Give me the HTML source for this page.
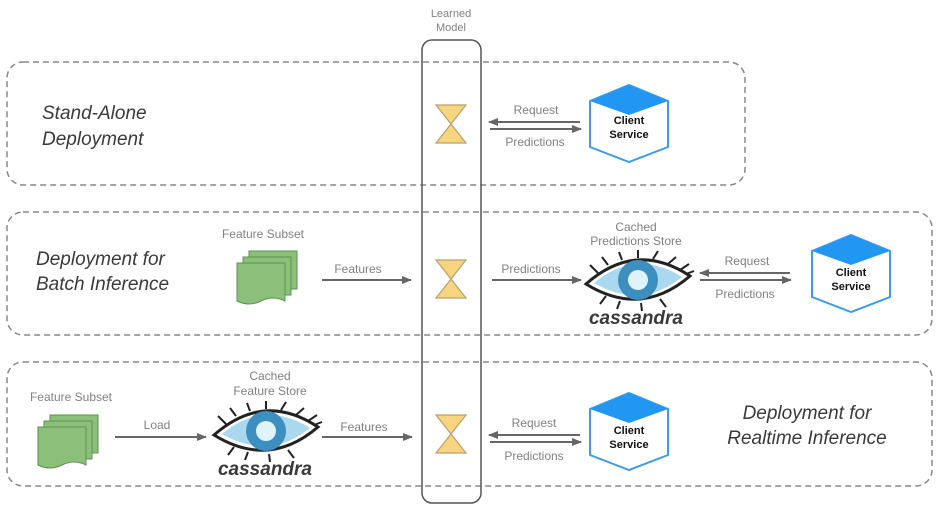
<!DOCTYPE html>
<html><head><meta charset="utf-8"><style>
html,body{margin:0;padding:0;background:#fff;}
svg{display:block;}
text{font-family:"Liberation Sans",sans-serif;}
.lbl{font-size:12px;fill:#808080;text-anchor:middle;}
.it{font-size:19px;font-style:italic;fill:#3a3a3a;}
.cs{font-size:11px;font-weight:bold;fill:#111;text-anchor:middle;}
.cas{font-size:19px;font-weight:bold;font-style:italic;fill:#3a3a3a;text-anchor:middle;}
</style></head><body>
<svg width="939" height="510" viewBox="0 0 939 510" xmlns="http://www.w3.org/2000/svg">
<defs>
<marker id="ah" markerWidth="10" markerHeight="8" refX="9" refY="4" orient="auto" markerUnits="userSpaceOnUse">
<path d="M0,0 L10,4 L0,8 z" fill="#666"/></marker>
<g id="cube">
<path d="M39,0 L78,16 L78,62 L39,77 L0,62 L0,16 Z" fill="#fff" stroke="#3d9be9" stroke-width="2"/>
<path d="M39,0 L78,16 L39,30 L0,16 Z" fill="#2196f3"/>
</g>
<g id="hg">
<path d="M0,0 L30,0 L15,19 Z M0,38 L30,38 L15,19 Z" fill="#f7d57e" stroke="#b8a070" stroke-width="1.2"/>
</g>
<g id="stack">
<path d="M12,0 H60 V38 H12 Z" fill="#8cc07a" stroke="#5d8f50"/>
<path d="M6,6 H54 V44 H6 Z" fill="#8cc07a" stroke="#5d8f50"/>
<path d="M0,12 H48 V50 Q36,44 24,50 Q12,56 0,50 Z" fill="#8cc07a" stroke="#5d8f50"/>
</g>
<g id="eye">
<path d="M0,28 Q50,-16 104,20 Q55,62 0,28 Z" fill="#fff" stroke="#222" stroke-width="3"/>
<path d="M8,27 Q50,-8 96,21 Q55,54 8,27 Z" fill="#a9d8ef"/>
<circle cx="52" cy="24" r="20" fill="#3c8fbf"/>
<circle cx="52" cy="24" r="10" fill="#dff3fb"/>
<path d="M12,17 L4,9 M22,9 L16,1 M36,4 L33,-4 M52,2 L52,-6 M67,3 L72,-5 M82,8 L90,1 M94,14 L103,8 M100,18 L108,15 M20,40 L14,48 M34,45 L31,53 M55,47 L56,55 M74,43 L80,51" stroke="#222" stroke-width="2"/>
</g>
</defs>

<text class="lbl" x="451" y="17" style="font-size:11px">Learned</text>
<text class="lbl" x="451" y="31" style="font-size:11px">Model</text>

<rect x="7" y="62" width="738" height="123" rx="16" fill="none" stroke="#888" stroke-width="1.5" stroke-dasharray="6,4"/>
<rect x="7" y="212" width="925" height="123" rx="16" fill="none" stroke="#888" stroke-width="1.5" stroke-dasharray="6,4"/>
<rect x="7" y="362" width="925" height="124" rx="16" fill="none" stroke="#888" stroke-width="1.5" stroke-dasharray="6,4"/>
<rect x="422" y="40" width="59" height="463" rx="10" fill="none" stroke="#555" stroke-width="1.5"/>

<text class="it" x="42" y="119">Stand-Alone</text>
<text class="it" x="42" y="145">Deployment</text>
<use href="#hg" x="436" y="105"/>
<line x1="580" y1="122" x2="489" y2="122" stroke="#666" stroke-width="2" marker-end="url(#ah)"/>
<line x1="490" y1="129" x2="581" y2="129" stroke="#666" stroke-width="2" marker-end="url(#ah)"/>
<text class="lbl" x="536" y="114">Request</text>
<text class="lbl" x="535" y="146">Predictions</text>
<use href="#cube" x="590" y="85"/>
<text class="cs" x="629" y="124">Client</text><text class="cs" x="629" y="138">Service</text>

<text class="it" x="36" y="265">Deployment for</text>
<text class="it" x="36" y="290">Batch Inference</text>
<text class="lbl" x="263" y="238">Feature Subset</text>
<use href="#stack" x="237" y="251"/>
<text class="lbl" x="358" y="273">Features</text>
<line x1="322" y1="280" x2="411" y2="280" stroke="#666" stroke-width="2" marker-end="url(#ah)"/>
<use href="#hg" x="436" y="260"/>
<text class="lbl" x="531" y="273">Predictions</text>
<line x1="492" y1="280" x2="581" y2="280" stroke="#666" stroke-width="2" marker-end="url(#ah)"/>
<text class="lbl" x="636" y="231">Cached</text>
<text class="lbl" x="636" y="245">Predictions Store</text>
<use href="#eye" x="586" y="256"/>
<text class="cas" x="636" y="324">cassandra</text>
<line x1="790" y1="273" x2="700" y2="273" stroke="#666" stroke-width="2" marker-end="url(#ah)"/>
<line x1="700" y1="280" x2="791" y2="280" stroke="#666" stroke-width="2" marker-end="url(#ah)"/>
<text class="lbl" x="747" y="265">Request</text>
<text class="lbl" x="745" y="298">Predictions</text>
<use href="#cube" x="812" y="235"/>
<text class="cs" x="851" y="276">Client</text><text class="cs" x="851" y="290">Service</text>

<text class="lbl" x="71" y="401">Feature Subset</text>
<use href="#stack" x="38" y="415"/>
<text class="lbl" x="157" y="429">Load</text>
<line x1="115" y1="437" x2="206" y2="437" stroke="#666" stroke-width="2" marker-end="url(#ah)"/>
<text class="lbl" x="270" y="380">Cached</text>
<text class="lbl" x="270" y="395">Feature Store</text>
<use href="#eye" x="214" y="407"/>
<text class="cas" x="265" y="475">cassandra</text>
<text class="lbl" x="364" y="431">Features</text>
<line x1="322" y1="437" x2="412" y2="437" stroke="#666" stroke-width="2" marker-end="url(#ah)"/>
<use href="#hg" x="436" y="415"/>
<line x1="580" y1="435" x2="489" y2="435" stroke="#666" stroke-width="2" marker-end="url(#ah)"/>
<line x1="490" y1="442" x2="581" y2="442" stroke="#666" stroke-width="2" marker-end="url(#ah)"/>
<text class="lbl" x="534" y="427">Request</text>
<text class="lbl" x="534" y="460">Predictions</text>
<use href="#cube" x="590" y="393"/>
<text class="cs" x="629" y="434">Client</text><text class="cs" x="629" y="448">Service</text>
<text class="it" x="807" y="419" text-anchor="middle">Deployment for</text>
<text class="it" x="807" y="444" text-anchor="middle">Realtime Inference</text>
</svg>
</body></html>
